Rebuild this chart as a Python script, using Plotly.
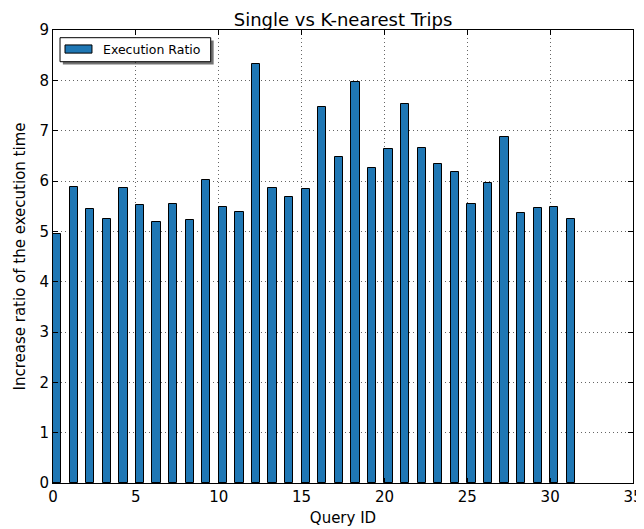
import plotly.graph_objects as go

query_ids = list(range(32))
exec_ratio = [4.95, 5.88, 5.45, 5.24, 5.86, 5.52, 5.19, 5.54, 5.23, 6.02,
              5.48, 5.39, 8.32, 5.86, 5.69, 5.84, 7.48, 6.47, 7.96, 6.26,
              6.64, 7.52, 6.66, 6.33, 6.18, 5.55, 5.96, 6.87, 5.36, 5.47,
              5.49, 5.25]
series_name = "Execution Ratio"
title_text = "Single vs K-nearest Trips"
x_label = "Query ID"
y_label = "Increase ratio of the execution time"
x_ticks = [0, 5, 10, 15, 20, 25, 30, 35]
y_ticks = [0, 1, 2, 3, 4, 5, 6, 7, 8, 9]

FONT = "DejaVu Sans"
BLUE = "#1f77b4"

# the page body adds an 8px offset, so the figure is sized to the visible area
W, H = 636, 521

fig = go.Figure()
fig.add_trace(go.Bar(
    x=query_ids, y=exec_ratio, name=series_name,
    width=0.5, offset=0,
    marker=dict(color=BLUE, line=dict(color="black", width=1)),
    showlegend=False,
))

axis_common = dict(
    showline=True, linecolor="black", linewidth=1, mirror="ticks",
    ticks="inside", ticklen=5, tickwidth=1, tickcolor="black",
    showgrid=True, gridcolor="rgba(0,0,0,0.6)", gridwidth=1, griddash="1px,3px",
    zeroline=False, automargin=False,
    tickfont=dict(family=FONT, size=15, color="black"),
)

fig.update_xaxes(range=[0, 35], tickvals=x_ticks,
                 title=dict(text=x_label, font=dict(family=FONT, size=15, color="black"), standoff=7),
                 **axis_common)
fig.update_yaxes(range=[0, 9], tickvals=y_ticks,
                 title=dict(text=y_label, font=dict(family=FONT, size=15, color="black"), standoff=10),
                 **axis_common)

# legend (matplotlib classic style box with shadow)
shapes = [
    dict(type="rect", xref="paper", yref="paper", x0=0.0170, x1=0.2770, y0=0.924, y1=0.977,
         fillcolor="rgba(0,0,0,0.55)", line=dict(width=0), layer="above"),
    dict(type="rect", xref="paper", yref="paper", x0=0.0121, x1=0.2719, y0=0.930, y1=0.983,
         fillcolor="white", line=dict(color="black", width=1), layer="above"),
    dict(type="rect", xref="paper", yref="paper", x0=0.0207, x1=0.0672, y0=0.949, y1=0.967,
         fillcolor=BLUE, line=dict(color="black", width=1), layer="above"),
]
annotations = [
    dict(text=series_name, xref="paper", yref="paper", x=0.082, y=0.958,
         xanchor="left", yanchor="middle", showarrow=False,
         font=dict(family=FONT, size=12.5, color="black")),
]

fig.update_layout(
    width=W, height=H,
    margin=dict(l=45, r=11, t=22, b=46, pad=0, autoexpand=False),
    paper_bgcolor="white", plot_bgcolor="white",
    title=dict(text=title_text, x=0.5, xref="paper", xanchor="center",
               y=1 - 11.5 / H, yref="container", yanchor="middle",
               font=dict(family=FONT, size=18, color="black")),
    shapes=shapes, annotations=annotations,
    bargap=0, showlegend=False,
)

fig.write_html("out.html")
